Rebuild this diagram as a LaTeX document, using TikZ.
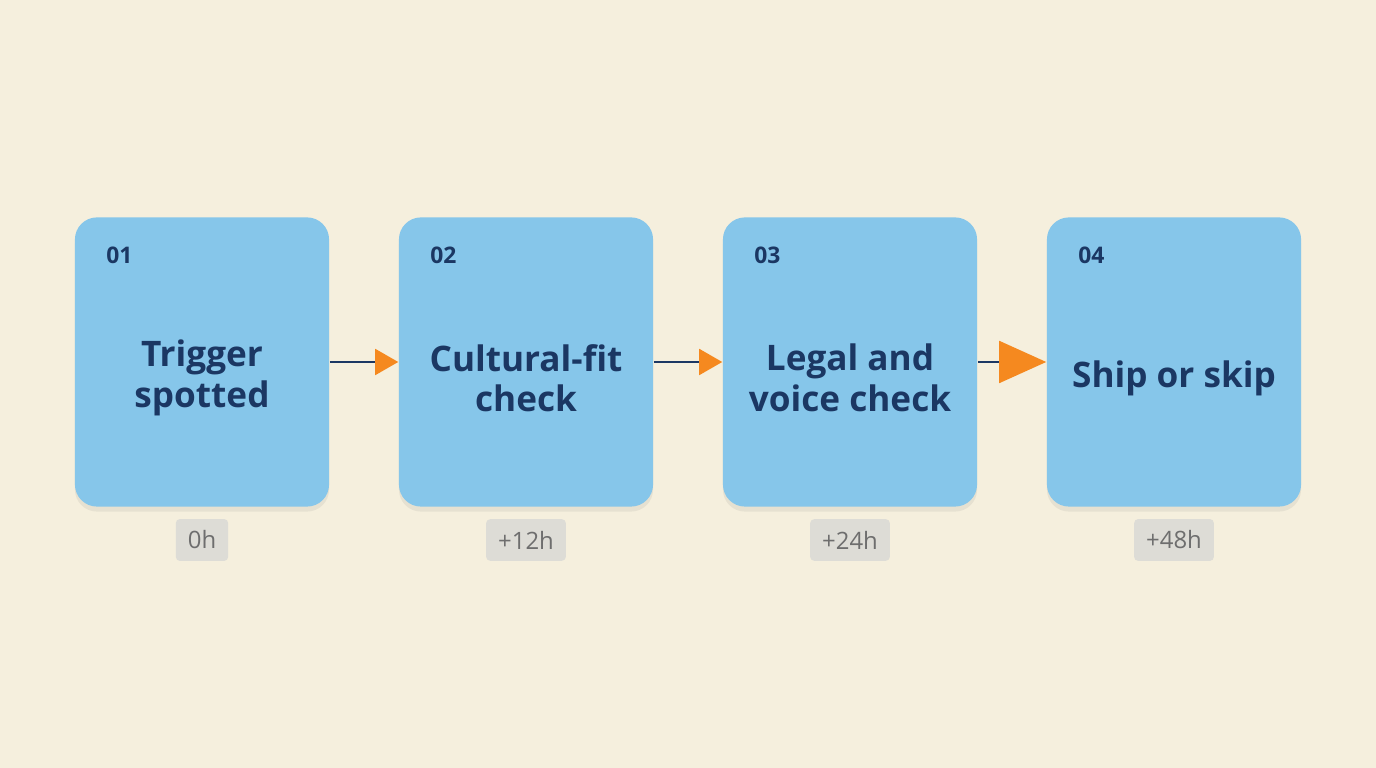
\documentclass[tikz,border=0pt]{standalone}
\usepackage{fontspec}
\setmainfont{Open Sans}
\usetikzlibrary{positioning,arrows.meta,shadows}
\definecolor{colorBg}{HTML}{F5EFDD}
\definecolor{colorBoxfill}{HTML}{86C6EA}
\definecolor{colorInk}{HTML}{1B3763}
\definecolor{colorTip}{HTML}{F5891F}
\definecolor{colorTagfill}{HTML}{DDDCD6}
\definecolor{colorTagtext}{HTML}{6E6E6E}

\begin{document}
\begin{tikzpicture}[
    x=0.01cm, y=-0.01cm,
    step box/.style={rectangle, rounded corners=0.22cm, fill=colorBoxfill, minimum width=2.54cm, minimum height=2.89cm,
        drop shadow={shadow xshift=0pt, shadow yshift=-0.05cm, opacity=0.12}},
    title/.style={align=center, text=colorInk, font=\fontsize{10}{11.5}\selectfont\bfseries},
    num/.style={text=colorInk, font=\fontsize{6.5}{8}\selectfont\bfseries, anchor=west},
    tag/.style={rectangle, rounded corners=0.04cm, fill=colorTagfill, text=colorTagtext, inner xsep=0.12cm,
        minimum height=0.34cm, font=\fontsize{6.8}{8}\selectfont},
    arrow/.style={draw=colorInk, line width=0.5pt, -{Triangle[length=0.23cm, width=0.26cm, color=colorTip]}},
    bigarrow/.style={draw=colorInk, line width=0.5pt, -{Triangle[length=0.47cm, width=0.42cm, color=colorTip]}}
]
    \fill[colorBg] (0,0) rectangle (1376,768);
    \useasboundingbox (0,0) rectangle (1376,768);

    % Steps
    \node[step box] (trig) at (202,362) {};
    \node[step box] (fit) at (526,362) {};
    \node[step box] (legal) at (850,362) {};
    \node[step box] (ship) at (1174,362) {};

    \node[num] at (94,255) {01};
    \node[num] at (418,255) {02};
    \node[num] at (742,255) {03};
    \node[num] at (1066,255) {04};

    \node[title] at (202,378) {Trigger\\spotted};
    \node[title] at (526,378) {Cultural-fit\\check};
    \node[title] at (850,378) {Legal and\\voice check};
    \node[title] at (1174,378) {Ship or skip};

    % Times
    \node[tag] (t1) at (202,540) {0h};
    \node[tag] (t2) at (526,540) {+12h};
    \node[tag] (t3) at (850,540) {+24h};
    \node[tag] (t4) at (1174,540) {+48h};

    % Edges
    \draw[arrow] (trig) -- (fit);
    \draw[arrow] (fit) -- (legal);
    \draw[bigarrow] (legal) -- (ship);
\end{tikzpicture}
\end{document}
